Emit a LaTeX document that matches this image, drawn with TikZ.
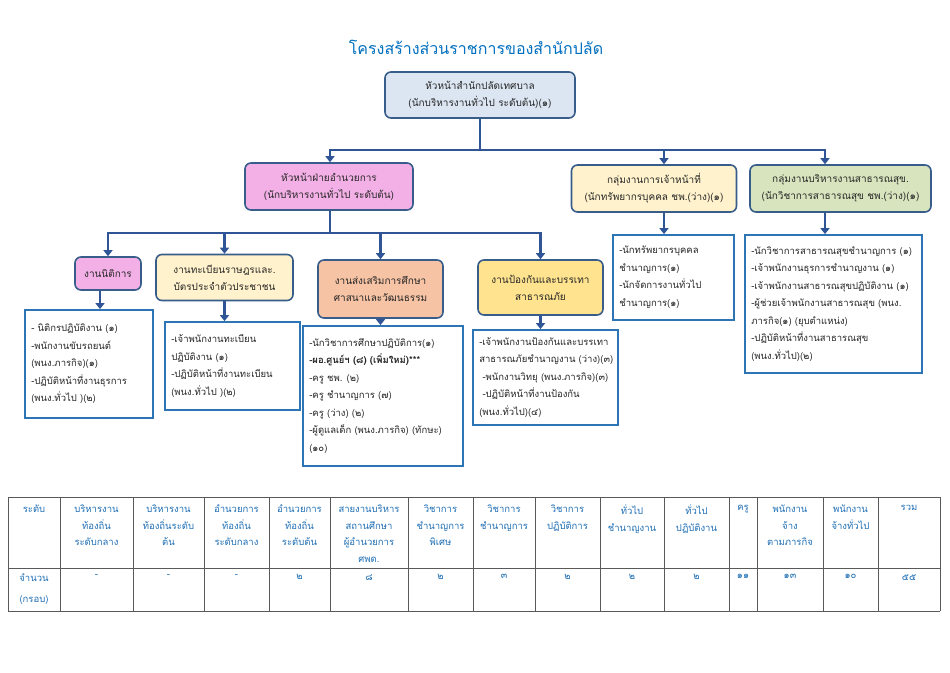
\documentclass[tikz,border=0pt]{standalone}
\usepackage{fontspec}
\setmainfont[Script=Thai]{Loma}
\usetikzlibrary{arrows.meta}
\definecolor{titleblue}{HTML}{0070C0}
\definecolor{hbord}{HTML}{385D8A}
\definecolor{lbord}{HTML}{2E75B6}
\definecolor{conn}{HTML}{2F5597}
\definecolor{topfill}{HTML}{DCE6F2}
\definecolor{pinkfill}{HTML}{F3B0E6}
\definecolor{creamfill}{HTML}{FFF2CC}
\definecolor{greenfill}{HTML}{D7E4BD}
\definecolor{salmonfill}{HTML}{F6C3A5}
\definecolor{yellowfill}{HTML}{FFE38F}
\definecolor{tblue}{HTML}{1F6FB5}
\definecolor{txt}{HTML}{262626}
\newcommand\ft{\fontsize{10}{17}\selectfont}
\newcommand\lft{\fontsize{9.5}{17.5}\selectfont}
\newcommand\tft{\fontsize{9.5}{16.5}\selectfont}
\begin{document}
\begin{tikzpicture}[x=1pt,y=-1pt,
  hb/.style={draw=hbord, line width=1.6pt, rounded corners=6pt, align=center, inner sep=0pt, font=\ft, text=txt},
  lb/.style={draw=lbord, line width=1.8pt, fill=white, inner sep=0pt},
  lt/.style={align=left, anchor=west, inner xsep=7pt, inner ysep=0pt, font=\lft, text=txt},
  arr/.style={draw=conn, line width=2.6pt, -{Triangle[width=9pt,length=6pt]}},
  ln/.style={draw=conn, line width=2.6pt},
  th/.style={anchor=north, align=center, font=\tft, text=tblue, inner sep=0pt},
  td/.style={anchor=north, align=center, font=\fontsize{9.5}{21}\selectfont, text=tblue, inner sep=0pt},
  tl/.style={draw=black!65, line width=0.7pt}
]
\useasboundingbox (0,0) rectangle (950,672);
\fill[white] (0,0) rectangle (950,672);

\node[font=\fontsize{16}{19}\selectfont, text=titleblue] (title) at (476,47) {โครงสร้างส่วนราชการของสำนักปลัด};

% level 1
\node[hb, fill=topfill, minimum width=190pt, minimum height=46pt] (top) at (480,95)
  {หัวหน้าสำนักปลัดเทศบาล\\(นักบริหารงานทั่วไป ระดับต้น)(๑)};

% level 2
\node[hb, fill=pinkfill, minimum width=168pt, minimum height=47pt] (pink) at (329,186.5)
  {หัวหน้าฝ่ายอำนวยการ\\(นักบริหารงานทั่วไป ระดับต้น)};
\node[hb, fill=creamfill, minimum width=165pt, minimum height=47pt] (staff) at (654,188.5)
  {กลุ่มงานการเจ้าหน้าที่\\(นักทรัพยากรบุคคล ชพ.(ว่าง)(๑)};
\node[hb, fill=greenfill, minimum width=181pt, minimum height=47pt] (health) at (840.5,188.5)
  {กลุ่มงานบริหารงานสาธารณสุข.\\(นักวิชาการสาธารณสุข ชพ.(ว่าง)(๑)};

% level 3
\node[hb, fill=pinkfill, minimum width=66pt, minimum height=33pt] (legal) at (108,273.5) {งานนิติการ};
\node[hb, fill=creamfill, minimum width=137pt, minimum height=46pt] (reg) at (224.5,277.5)
  {งานทะเบียนราษฎรและ.\\บัตรประจำตัวประชาชน};
\node[hb, fill=salmonfill, minimum width=125pt, minimum height=58pt] (edu) at (380.5,289)
  {งานส่งเสริมการศึกษา\\ศาสนาและวัฒนธรรม};
\node[hb, fill=yellowfill, minimum width=125pt, minimum height=55pt] (prev) at (540.5,287.5)
  {งานป้องกันและบรรเทา\\สาธารณภัย};

% lists
\node[lb, minimum width=128pt, minimum height=108pt] (l1) at (89,364) {};
\node[lt] (l1t) at (l1.west)
  {- นิติกรปฏิบัติงาน (๑)\\-พนักงานขับรถยนต์\\(พนง.ภารกิจ)(๑)\\-ปฏิบัติหน้าที่งานธุรการ\\(พนง.ทั่วไป )(๒)};
\node[lb, minimum width=135pt, minimum height=88pt] (l2) at (232.5,366) {};
\node[lt] (l2t) at (l2.west)
  {-เจ้าพนักงานทะเบียน\\ปฏิบัติงาน (๑)\\-ปฏิบัติหน้าที่งานทะเบียน\\(พนง.ทั่วไป )(๒)};
\node[lb, minimum width=160pt, minimum height=140pt] (l3) at (383,396) {};
\node[lt] (l3t) at (l3.west)
  {-นักวิชาการศึกษาปฏิบัติการ(๑)\\\textbf{-ผอ.ศูนย์ฯ (๘) (เพิ่มใหม่)***}\\-ครู ชพ. (๒)\\-ครู ชำนาญการ (๗)\\-ครู (ว่าง) (๒)\\-ผู้ดูแลเด็ก (พนง.ภารกิจ) (ทักษะ)\\(๑๐)};
\node[lb, minimum width=145pt, minimum height=95pt] (l4) at (545.5,377.5) {};
\node[lt] (l4t) at (l4.west)
  {-เจ้าพนักงานป้องกันและบรรเทา\\สาธารณภัยชำนาญงาน (ว่าง)(๓)\\\ -พนักงานวิทยุ (พนง.ภารกิจ)(๓)\\\ -ปฏิบัติหน้าที่งานป้องกัน\\(พนง.ทั่วไป)(๔)};
\node[lb, minimum width=121pt, minimum height=85pt] (l5) at (673.5,277.5) {};
\node[lt] (l5t) at (l5.west)
  {-นักทรัพยากรบุคคล\\ชำนาญการ(๑)\\-นักจัดการงานทั่วไป\\ชำนาญการ(๑)};
\node[lb, minimum width=177pt, minimum height=138pt] (l6) at (833.5,304) {};
\node[lt] (l6t) at (l6.west)
  {-นักวิชาการสาธารณสุขชำนาญการ (๑)\\-เจ้าพนักงานธุรการชำนาญงาน (๑)\\-เจ้าพนักงานสาธารณสุขปฏิบัติงาน (๑)\\-ผู้ช่วยเจ้าพนักงานสาธารณสุข (พนง.\\ภารกิจ(๑) (ยุบตำแหน่ง)\\-ปฏิบัติหน้าที่งานสาธารณสุข\\(พนง.ทั่วไป)(๒)};

% connectors
\coordinate (bus1) at (480,150);
\coordinate (bus2) at (330,233);
\coordinate (xs) at (664,0);
\coordinate (xh) at (825,0);
\coordinate (xl) at (100,0);
\draw[ln] (top.south -| bus1) -- (bus1);
\draw[arr] (bus1) -| (pink.north -| bus2);
\draw[arr] (bus1) -| (staff.north -| xs);
\draw[arr] (bus1) -| (health.north -| xh);
\draw[ln] (pink.south -| bus2) -- (bus2);
\draw[arr] (bus2) -| (legal.north);
\draw[arr] (bus2) -| (reg.north);
\draw[arr] (bus2) -| (edu.north);
\draw[arr] (bus2) -| (prev.north);
\draw[arr] (legal.south -| xl) -- (l1.north -| xl);
\draw[arr] (reg.south) -- (l2.north -| reg.south);
\draw[arr] (edu.south) -- (l3.north -| edu.south);
\draw[arr] (prev.south) -- (l4.north -| prev.south);
\draw[arr] (staff.south -| xs) -- (l5.north -| xs);
\draw[arr] (health.south -| xh) -- (l6.north -| xh);

% table
\foreach \x in {8,60,133,204,269,330,408,473,535,600,664,729,757,823,878,940}
  \draw[tl] (\x,497) -- (\x,611);
\draw[tl] (8,497) -- (940,497);
\draw[tl] (8,568) -- (940,568);
\draw[tl] (8,611) -- (940,611);

\foreach \a/\b/\t/\v [count=\i] in {
  8/60/{ระดับ}/{จำนวน\\(กรอบ)},
  60/133/{บริหารงาน\\ท้องถิ่น\\ระดับกลาง}/{-},
  133/204/{บริหารงาน\\ท้องถิ่นระดับ\\ต้น}/{-},
  204/269/{อำนวยการ\\ท้องถิ่น\\ระดับกลาง}/{-},
  269/330/{อำนวยการ\\ท้องถิ่น\\ระดับต้น}/{๒},
  330/408/{สายงานบริหาร\\สถานศึกษา\\ผู้อำนวยการ\\ศพด.}/{๘},
  408/473/{วิชาการ\\ชำนาญการ\\พิเศษ}/{๒},
  473/535/{วิชาการ\\ชำนาญการ}/{๓},
  535/600/{วิชาการ\\ปฏิบัติการ}/{๒},
  600/664/{ทั่วไป\\ชำนาญงาน}/{๒},
  664/729/{ทั่วไป\\ปฏิบัติงาน}/{๒},
  729/757/{ครู}/{๑๑},
  757/823/{พนักงาน\\จ้าง\\ตามภารกิจ}/{๑๓},
  823/878/{พนักงาน\\จ้างทั่วไป}/{๑๐},
  878/940/{รวม}/{๕๕}}
{
  \node[th] (h\i) at ({(\a+\b)/2},505) {\t};
  \node[td] (v\i) at ({(\a+\b)/2},574) {\v};
}
\end{tikzpicture}
\end{document}
